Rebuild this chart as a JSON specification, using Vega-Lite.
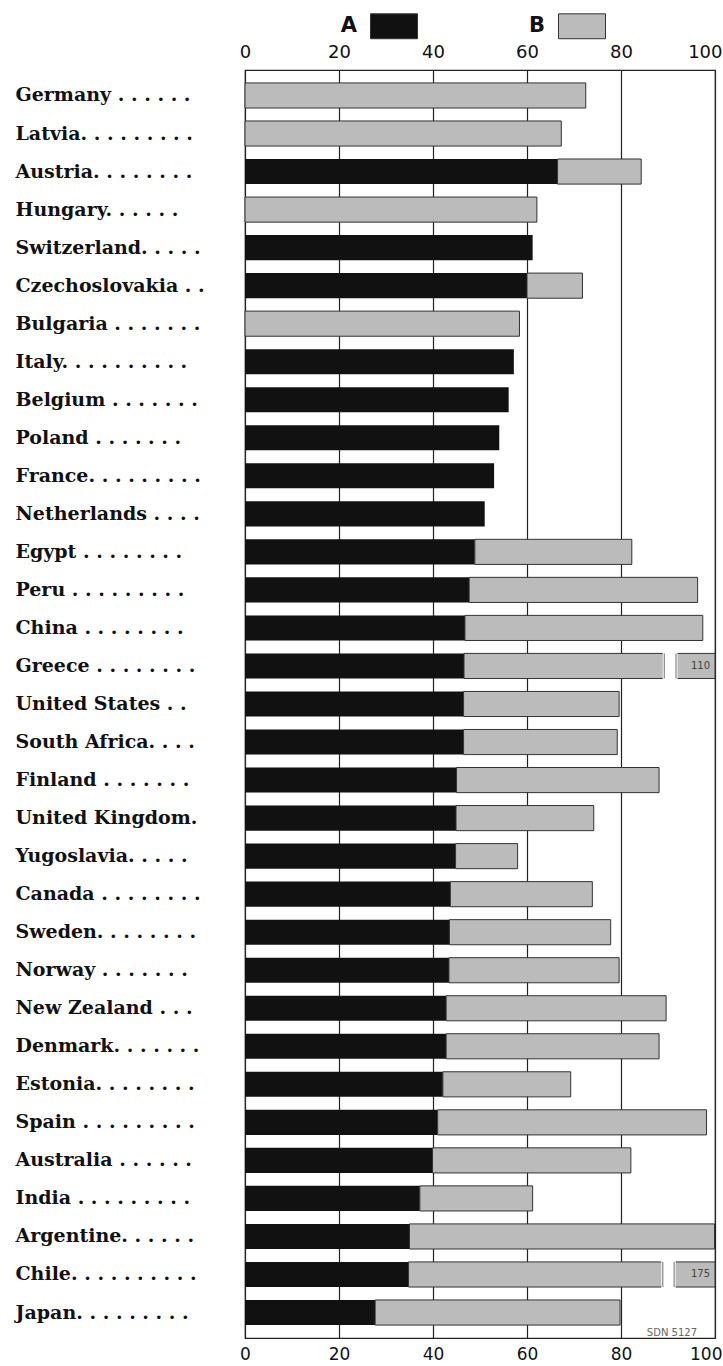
{
  "$schema": "https://vega.github.io/schema/vega-lite/v6.json",
  "width": 470,
  "height": 1268,
  "autosize": {"type": "none"},
  "padding": {"left": 245, "top": 70, "right": 8, "bottom": 28},
  "background": "white",
  "config": {
    "view": {"stroke": "#222", "strokeWidth": 1.2}
  },
  "title": {"text": "SDN 5127", "orient": "bottom", "anchor": "end", "font": "DejaVu Sans", "fontSize": 10, "fontWeight": "normal", "color": "#666", "dy": -38, "dx": -25},
  "datasets": {
    "shares": [
      {"country": "Germany", "A": 0, "total": 72.5},
      {"country": "Latvia", "A": 0, "total": 67.3},
      {"country": "Austria", "A": 66.5, "total": 84.3},
      {"country": "Hungary", "A": 0, "total": 62.1},
      {"country": "Switzerland", "A": 61.2, "total": 61.2},
      {"country": "Czechoslovakia", "A": 60.0, "total": 71.8},
      {"country": "Bulgaria", "A": 0, "total": 58.4},
      {"country": "Italy", "A": 57.2, "total": 57.2},
      {"country": "Belgium", "A": 56.1, "total": 56.1},
      {"country": "Poland", "A": 54.1, "total": 54.1},
      {"country": "France", "A": 53.0, "total": 53.0},
      {"country": "Netherlands", "A": 51.0, "total": 51.0},
      {"country": "Egypt", "A": 48.9, "total": 82.3},
      {"country": "Peru", "A": 47.7, "total": 96.3},
      {"country": "China", "A": 46.8, "total": 97.4},
      {"country": "Greece", "A": 46.6, "total": 110},
      {"country": "United States", "A": 46.5, "total": 79.6},
      {"country": "South Africa", "A": 46.5, "total": 79.2},
      {"country": "Finland", "A": 45.0, "total": 88.1},
      {"country": "United Kingdom", "A": 44.9, "total": 74.2},
      {"country": "Yugoslavia", "A": 44.8, "total": 58.0},
      {"country": "Canada", "A": 43.7, "total": 73.9},
      {"country": "Sweden", "A": 43.5, "total": 77.8},
      {"country": "Norway", "A": 43.4, "total": 79.6},
      {"country": "New Zealand", "A": 42.8, "total": 89.6},
      {"country": "Denmark", "A": 42.8, "total": 88.1},
      {"country": "Estonia", "A": 42.1, "total": 69.3},
      {"country": "Spain", "A": 41.0, "total": 98.2},
      {"country": "Australia", "A": 39.9, "total": 82.1},
      {"country": "India", "A": 37.2, "total": 61.2},
      {"country": "Argentine", "A": 35.0, "total": 99.9},
      {"country": "Chile", "A": 34.8, "total": 175},
      {"country": "Japan", "A": 27.7, "total": 79.8}
    ],
    "breaks": [
      {"country": "Greece", "from": 89.2, "to": 91.7},
      {"country": "Chile", "from": 88.9, "to": 91.3}
    ]
  },
  "data": {"name": "shares"},
  "encoding": {
    "y": {
      "field": "country",
      "type": "nominal",
      "sort": null,
      "title": null,
      "scale": {"paddingInner": 0.34, "paddingOuter": 0.34},
      "axis": {
        "ticks": false,
        "tickSize": 0,
        "domain": false,
        "grid": false,
        "labelAlign": "left",
        "labelPadding": 230,
        "labelLimit": 0,
        "labelFont": "DejaVu Serif",
        "labelFontWeight": "bold",
        "labelFontSize": 19,
        "labelColor": "#111",
        "labelExpr": "({'Germany':'Germany . . . . . .','Latvia':'Latvia. . . . . . . . .','Austria':'Austria. . . . . . . .','Hungary':'Hungary. . . . . .','Switzerland':'Switzerland. . . . .','Czechoslovakia':'Czechoslovakia . .','Bulgaria':'Bulgaria . . . . . . .','Italy':'Italy. . . . . . . . . .','Belgium':'Belgium . . . . . . .','Poland':'Poland . . . . . .  .','France':'France. . . . . . . . .','Netherlands':'Netherlands . . . .','Egypt':'Egypt . . . . . . . .','Peru':'Peru . . . . . . . . .','China':'China . . . .  . . . .','Greece':'Greece . . . . . . . .','United States':'United States . .','South Africa':'South Africa. . . .','Finland':'Finland  . . . . . . .','United Kingdom':'United Kingdom.','Yugoslavia':'Yugoslavia. . . . .','Canada':'Canada . . . . . . . .','Sweden':'Sweden. . . . . . . .','Norway':'Norway  . . . . . . .','New Zealand':'New Zealand . . .','Denmark':'Denmark. . . . . . .','Estonia':'Estonia. . . . . . . .','Spain':'Spain . . . . . . . . .','Australia':'Australia  . . . . . .','India':'India  . . . . . . . . .','Argentine':'Argentine. . . . . .','Chile':'Chile. . . . . . . . . .','Japan':'Japan. . . . . . . . .'})[datum.value]"
      }
    }
  },
  "layer": [
    {
      "mark": {"type": "bar"},
      "encoding": {
        "x": {
          "field": "A",
          "type": "quantitative",
          "stack": null,
          "title": null,
          "scale": {"domain": [0, 100], "nice": false, "zero": true, "clamp": true},
          "axis": {
            "orient": "bottom",
            "values": [0, 20, 40, 60, 80, 100],
            "grid": true,
            "gridColor": "#222",
            "gridWidth": 1.2,
            "gridOpacity": 1,
            "ticks": false,
            "domain": false,
            "labelPadding": 8,
            "labelFont": "DejaVu Sans",
            "labelFontSize": 17,
            "labelColor": "#111",
            "labelFlush": false,
            "labelOverlap": false,
            "labelAlign": {"condition": {"test": "datum.value === 100", "value": "right"}, "value": "center"},
            "labelOffset": {"condition": {"test": "datum.value === 100", "value": 7}, "value": 0}
          }
        },
        "color": {
          "datum": "A",
          "scale": {"domain": ["A", "B"], "range": ["#111111", "#bbbbbb"]},
          "legend": {
            "orient": "none",
            "legendX": 125,
            "legendY": -68,
            "direction": "horizontal",
            "title": null,
            "symbolType": "M-1,-0.53H1V0.53H-1Z",
            "symbolSize": 2209,
            "symbolStrokeColor": "#333",
            "symbolStrokeWidth": 1,
            "symbolOpacity": 1,
            "labelFont": "DejaVu Sans",
            "labelFontWeight": "bold",
            "labelFontSize": 21,
            "labelColor": "#111",
            "labelAlign": "right",
            "labelOffset": -61,
            "columnPadding": 108
          }
        }
      }
    },
    {
      "transform": [{"filter": "datum.total > datum.A"}],
      "mark": {"type": "bar", "stroke": "#333", "strokeWidth": 1},
      "encoding": {
        "x": {
          "field": "A",
          "type": "quantitative",
          "title": null,
          "axis": {
            "orient": "top",
            "values": [0, 20, 40, 60, 80, 100],
            "grid": false,
            "ticks": false,
            "domain": false,
            "labelPadding": 9,
            "labelFont": "DejaVu Sans",
            "labelFontSize": 18,
            "labelColor": "#111",
            "labelFlush": false,
            "labelOverlap": false,
            "labelAlign": {"condition": {"test": "datum.value === 100", "value": "right"}, "value": "center"},
            "labelOffset": {"condition": {"test": "datum.value === 100", "value": 7}, "value": 0}
          }
        },
        "x2": {"field": "total"},
        "color": {"datum": "B"}
      }
    },
    {
      "data": {"name": "breaks"},
      "mark": {"type": "bar", "fill": "white", "stroke": "white", "strokeWidth": 3},
      "encoding": {
        "x": {"field": "from", "type": "quantitative", "axis": null},
        "x2": {"field": "to"}
      }
    },
    {
      "data": {"name": "breaks"},
      "mark": {"type": "tick", "color": "#333", "thickness": 1, "size": 25, "orient": "vertical"},
      "encoding": {
        "x": {"field": "from", "type": "quantitative", "axis": null}
      }
    },
    {
      "data": {"name": "breaks"},
      "mark": {"type": "tick", "color": "#333", "thickness": 1, "size": 25, "orient": "vertical"},
      "encoding": {
        "x": {"field": "to", "type": "quantitative", "axis": null}
      }
    },
    {
      "transform": [{"filter": "datum.total > 100"}],
      "mark": {"type": "text", "align": "right", "baseline": "middle", "dx": -5, "font": "DejaVu Sans", "fontSize": 10, "color": "#444"},
      "encoding": {
        "x": {"field": "total", "type": "quantitative", "axis": null},
        "text": {"field": "total", "type": "quantitative"}
      }
    }
  ],
  "resolve": {"axis": {"x": "independent"}}
}
